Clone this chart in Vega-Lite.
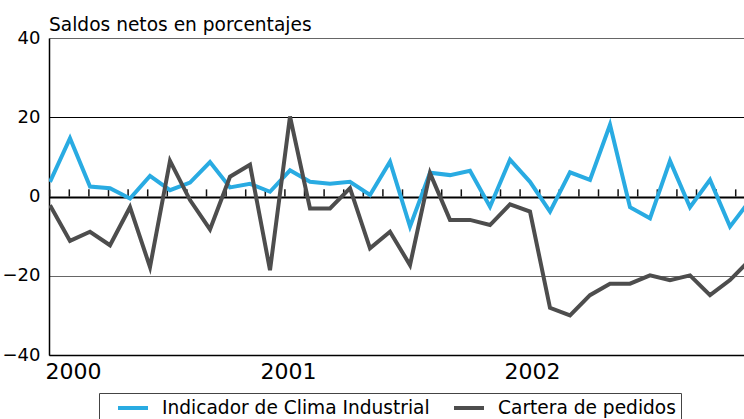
{
  "$schema": "https://vega.github.io/schema/vega-lite/v6.json",
  "autosize": {"type": "none"},
  "width": 695,
  "height": 317,
  "padding": {"left": 49, "top": 38, "right": 0, "bottom": 64},
  "background": "white",
  "config": {
    "view": {"stroke": null},
    "font": "DejaVu Sans"
  },
  "title": {
    "text": "Saldos netos en porcentajes",
    "anchor": "start",
    "frame": "group",
    "font": "DejaVu Sans",
    "fontSize": 18.6,
    "fontWeight": "normal",
    "color": "black",
    "baseline": "alphabetic",
    "offset": 6.5,
    "dy": 27.5
  },
  "data": {
    "values": [
      {"i": 0, "mes": "2000-01", "clima": 3.7, "cartera": -2.2},
      {"i": 1, "mes": "2000-02", "clima": 14.7, "cartera": -11.2},
      {"i": 2, "mes": "2000-03", "clima": 2.5, "cartera": -8.9},
      {"i": 3, "mes": "2000-04", "clima": 2.1, "cartera": -12.3},
      {"i": 4, "mes": "2000-05", "clima": -0.5, "cartera": -2.7},
      {"i": 5, "mes": "2000-06", "clima": 5.2, "cartera": -17.8},
      {"i": 6, "mes": "2000-07", "clima": 1.6, "cartera": 9.0},
      {"i": 7, "mes": "2000-08", "clima": 3.5, "cartera": -0.9},
      {"i": 8, "mes": "2000-09", "clima": 8.7, "cartera": -8.3},
      {"i": 9, "mes": "2000-10", "clima": 2.3, "cartera": 5.0},
      {"i": 10, "mes": "2000-11", "clima": 3.2, "cartera": 8.0},
      {"i": 11, "mes": "2000-12", "clima": 1.2, "cartera": -18.6},
      {"i": 12, "mes": "2001-01", "clima": 6.6, "cartera": 20.2},
      {"i": 13, "mes": "2001-02", "clima": 3.7, "cartera": -3.0},
      {"i": 14, "mes": "2001-03", "clima": 3.2, "cartera": -3.0},
      {"i": 15, "mes": "2001-04", "clima": 3.7, "cartera": 2.1},
      {"i": 16, "mes": "2001-05", "clima": 0.4, "cartera": -13.1},
      {"i": 17, "mes": "2001-06", "clima": 8.8, "cartera": -8.9},
      {"i": 18, "mes": "2001-07", "clima": -7.6, "cartera": -17.3},
      {"i": 19, "mes": "2001-08", "clima": 6.0, "cartera": 5.9},
      {"i": 20, "mes": "2001-09", "clima": 5.4, "cartera": -5.9},
      {"i": 21, "mes": "2001-10", "clima": 6.5, "cartera": -5.9},
      {"i": 22, "mes": "2001-11", "clima": -2.6, "cartera": -7.2},
      {"i": 23, "mes": "2001-12", "clima": 9.3, "cartera": -2.0},
      {"i": 24, "mes": "2002-01", "clima": 3.7, "cartera": -3.8},
      {"i": 25, "mes": "2002-02", "clima": -3.8, "cartera": -28.1},
      {"i": 26, "mes": "2002-03", "clima": 6.1, "cartera": -30.0},
      {"i": 27, "mes": "2002-04", "clima": 4.2, "cartera": -24.9},
      {"i": 28, "mes": "2002-05", "clima": 18.1, "cartera": -22.0},
      {"i": 29, "mes": "2002-06", "clima": -2.7, "cartera": -22.0},
      {"i": 30, "mes": "2002-07", "clima": -5.5, "cartera": -19.9},
      {"i": 31, "mes": "2002-08", "clima": 9.0, "cartera": -21.1},
      {"i": 32, "mes": "2002-09", "clima": -2.7, "cartera": -19.9},
      {"i": 33, "mes": "2002-10", "clima": 4.2, "cartera": -24.9},
      {"i": 34, "mes": "2002-11", "clima": -7.6, "cartera": -21.1},
      {"i": 35, "mes": "2002-12", "clima": -1.0, "cartera": -16.0}
    ]
  },
  "resolve": {"scale": {"x": "independent"}},
  "layer": [
    {
      "mark": {"type": "rule", "color": "#111", "strokeWidth": 1.5},
      "encoding": {
        "x": {"field": "i", "type": "quantitative", "scale": {"domain": [-0.0357, 35.423], "nice": false, "zero": false}, "axis": null},
        "y": {"datum": 0, "type": "quantitative", "scale": {"domain": [-40, 40], "nice": false}},
        "y2": {"datum": 1.8}
      }
    },
    {
      "transform": [{"fold": ["clima", "cartera"], "as": ["serie", "valor"]}],
      "mark": {"type": "line", "strokeWidth": 4, "clip": true},
      "encoding": {
        "x": {
          "field": "i", "type": "quantitative",
          "scale": {"domain": [-0.05, 34.7], "nice": false, "zero": false},
          "axis": {
            "title": null,
            "values": [1.15, 11.9, 24.1],
            "labelExpr": "datum.value < 5 ? '2000' : datum.value < 18 ? '2001' : '2002'",
            "ticks": false,
            "grid": false,
            "domain": true,
            "domainColor": "black",
            "domainWidth": 1.5,
            "labelFont": "DejaVu Sans",
            "labelFontSize": 22,
            "labelColor": "black",
            "labelPadding": 6,
            "labelFlush": false,
            "labelOverlap": false
          }
        },
        "y": {
          "field": "valor", "type": "quantitative",
          "scale": {"domain": [-40, 40], "nice": false},
          "axis": {
            "title": null,
            "values": [-40, -20, 0, 20, 40],
            "grid": true,
            "gridColor": {"condition": {"test": "datum.value === 40 || datum.value === -20", "value": "#666666"}, "value": "black"},
            "gridWidth": {"condition": {"test": "datum.value === 0", "value": 2}, "value": 1.2},
            "domain": true,
            "domainColor": "black",
            "domainWidth": 1.5,
            "ticks": false,
            "labelFont": "DejaVu Sans",
            "labelFontSize": 18,
            "labelColor": "black",
            "labelPadding": 9
          }
        },
        "color": {
          "field": "serie", "type": "nominal",
          "scale": {"domain": ["clima", "cartera"], "range": ["#29ABE2", "#4D4D4D"]},
          "legend": {
            "title": null,
            "orient": "none",
            "legendX": 50,
            "legendY": 355,
            "direction": "horizontal",
            "labelExpr": "datum.value === 'clima' ? 'Indicador de Clima Industrial' : 'Cartera de pedidos'",
            "labelFont": "DejaVu Sans",
            "labelFontSize": 18.6,
            "labelColor": "black",
            "labelOffset": 12,
            "labelLimit": 400,
            "symbolType": "stroke",
            "symbolSize": 900,
            "symbolStrokeWidth": 4,
            "symbolOffset": 12,
            "clipHeight": 20,
            "columnPadding": 10,
            "padding": 5,
            "strokeColor": "#444444",
            "fillColor": "white"
          }
        }
      }
    }
  ]
}
